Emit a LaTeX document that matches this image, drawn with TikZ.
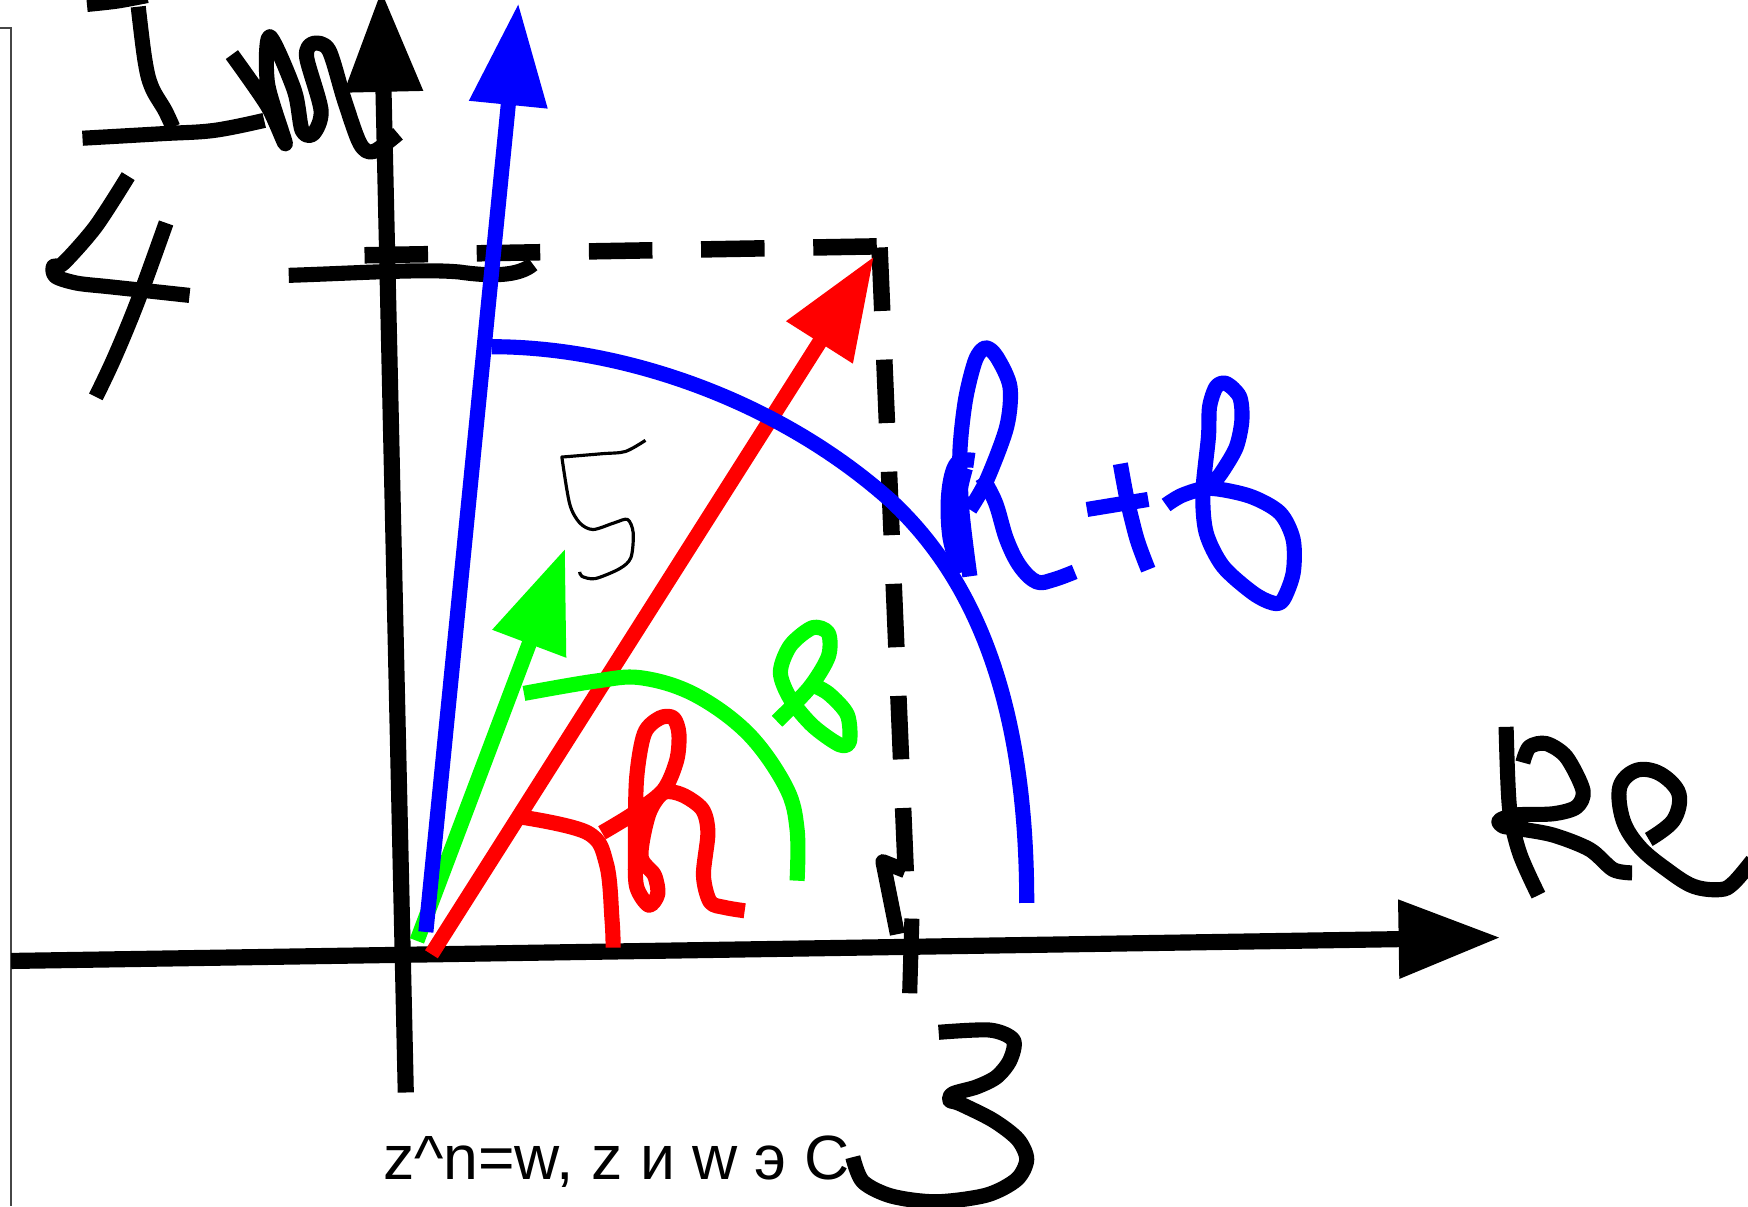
\documentclass[tikz,border=0pt]{standalone}
\usepackage{fontspec}
\setmainfont{Liberation Sans}
\usepackage{tikz}
\usetikzlibrary{arrows.meta}
\definecolor{penred}{RGB}{255,0,0}
\definecolor{penblue}{RGB}{0,0,255}
\definecolor{pengreen}{RGB}{0,255,0}
\definecolor{framegray}{RGB}{70,70,70}

\begin{document}
\begin{tikzpicture}[x=0.011148cm, y=-0.011148cm,
  >={Triangle[length=29pt, width=21.3pt]},
  axis/.style={line width=4.6pt},
  pen/.style={line width=4.3pt, line join=round},
  ink/.style={line width=4.3pt, line join=round},
  guide/.style={line width=4.7pt, dash pattern=on 18.08pt off 13.86pt},
  thinink/.style={line width=0.9pt, line join=round}]
  \useasboundingbox (0,0) rectangle (1568,1082);
  \clip (0,0) rectangle (1568,1082);
  \draw[framegray, line width=0.55pt] (0,25) -- (10,25) -- (10,1082);
  % axes
  \draw[->, axis] (364,980) -- (342,-9);
  \draw[->, axis] (10,862) -- (1346,841);
  \draw[guide] (327,229) -- (787,221);
  \draw[guide] (789,222) -- (812.5,782);
  \draw[ink] (812,781) -- (792,773) -- (805,838);
  \draw[ink] (818,824) -- (816,891);
  \draw[ink] (259,247) .. controls (320,245) and (380,241) .. (412,244)
    .. controls (440,248) and (465,248) .. (478,237);
  % vectors
  \draw[->, pen, pengreen] (374,844) -- (507,492);
  \draw[->, pen, penblue] (382,836) -- (465,3);
  \draw[->, pen, penred] (387,856) -- (784,230);
  \draw[pen, penblue] (441,311) .. controls (560,311) and (700,360) .. (800,450)
    .. controls (880,525) and (921,640) .. (921,810);
  \draw[pen, pengreen] plot[smooth, tension=0.6] coordinates
    {(470,622) (534,611) (575,608) (623,623) (671,658) (705,706) (715,744) (715,790)};
  \draw[pen, penred] plot[smooth, tension=0.6] coordinates
    {(468,733) (527,747) (544,775) (549,825) (550,850)};
  % labels
  \draw[pen, penred] plot[smooth, tension=0.5] coordinates
    {(540,747) (568,730) (595,709) (607,682) (609,658) (604,644) (592,644) (578,658)
     (571,699) (570,761) (571,795) (582,812) (590,802) (587,785) (575,768) (582,730)
     (595,711) (612,713) (630,726) (635,747) (631,785) (637,809) (650,814) (668,817)};
  \draw[pen, pengreen] plot[smooth, tension=0.5] coordinates
    {(697,647) (726,617) (743,589) (743,568) (729,563) (709,579) (700,603) (709,627)
     (729,651) (753,668) (762,665) (760,641) (743,622) (726,613)};
  \draw[thinink] plot[smooth] coordinates {(579,395) (561,405) (540,407) (504,410)}
    -- plot[smooth] coordinates {(504,410) (511,452) (520,469) (532,475) (551,469)
     (563,466) (568,478) (566,500) (556,510) (534,519) (522,517) (520,513)};
  \draw[pen, penblue] plot[smooth, tension=0.5] coordinates
    {(870,517) (863,460) (861,407) (866,359) (875,323) (884,312) (894,320) (906,347)
     (903,383) (885,431) (870,457)};
  \draw[pen, penblue] plot[smooth, tension=0.6] coordinates
    {(874,413) (858,416) (851,443) (852,481) (861,514)};
  \draw[pen, penblue] plot[smooth, tension=0.6] coordinates
    {(866,420) (859,455) (862,500)};
  \draw[pen, penblue] plot[smooth, tension=0.6] coordinates
    {(881,428) (893,451) (903,484) (915,508) (930,522) (945,520) (964,513)};
  \draw[pen, penblue] (975,457) -- (1030,448);
  \draw[pen, penblue] plot[smooth] coordinates {(1005,416) (1011,448) (1020,484) (1030,511)};
  \draw[pen, penblue] plot[smooth, tension=0.5] coordinates
    {(1046,453) (1061,444) (1085,438) (1121,445) (1148,460) (1160,484) (1160,514)
     (1151,538) (1142,541) (1124,532) (1097,508) (1082,478) (1079,442) (1084,392)
     (1085,365) (1091,347) (1100,344) (1112,356) (1114,377) (1109,401) (1097,422) (1088,434)};
  \draw[ink] plot[smooth] coordinates {(1351,652) (1354,724) (1363,765) (1380,803)};
  \draw[ink] plot[smooth, tension=0.5] coordinates
    {(1366,684) (1372,670) (1387,667) (1405,679) (1420,709) (1414,724) (1393,730)
     (1360,731) (1345,736) (1348,741) (1360,743) (1393,749) (1426,762) (1447,780) (1464,783)};
  \draw[ink] plot[smooth, tension=0.6] coordinates
    {(1479,753) (1501,736) (1506,712) (1489,694) (1468,691) (1453,706) (1456,736)
     (1471,760) (1495,780) (1519,795) (1543,798) (1555,792) (1572,772)};
  \draw[ink] plot[smooth, tension=0.5] coordinates
    {(78,4) (105,1) (132,-4)};
  \draw[ink] plot[smooth, tension=0.6] coordinates
    {(124,6) (130,54) (136,78) (148,99) (155,114)};
  \draw[ink] plot[smooth, tension=0.6] coordinates
    {(74,124) (144,120) (192,117) (237,108)};
  \draw[ink] plot[smooth, tension=0.5] coordinates
    {(208,49) (240,95) (256,129) (240,75) (242,33) (264,81) (271,117) (281,120)
     (288,99) (275,51) (281,39) (295,45) (309,90) (323,129) (335,136) (357,120)};
  \draw[ink] plot[smooth, tension=0.5] coordinates
    {(115,158) (86,203) (57,236) (48,239) (50,248) (69,254) (96,257) (124,260) (170,265)};
  \draw[ink] plot[smooth, tension=0.6] coordinates
    {(149,200) (124,269) (103,320) (86,356)};
  \draw[ink] plot[smooth, tension=0.5] coordinates
    {(842,926) (888,924) (909,933) (906,951) (894,966) (876,975) (855,981) (852,987)
     (861,990) (891,1005) (913,1022) (921,1040) (912,1058) (885,1072) (840,1078)
     (800,1073) (774,1060) (765,1038)};
  \node[anchor=base west, inner sep=0pt, font=\fontsize{17.8pt}{21pt}\selectfont]
    (caption) at (343,1058) {z\textasciicircum n=w, z и w э C};
\end{tikzpicture}
\end{document}
